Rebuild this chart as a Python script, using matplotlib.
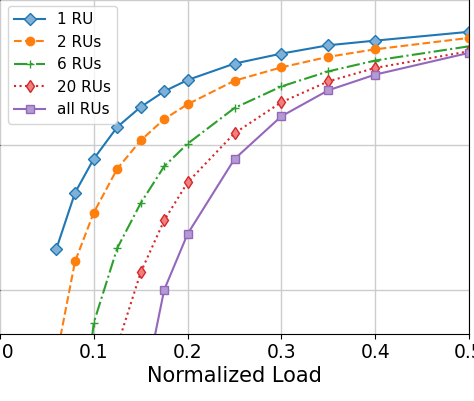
import matplotlib
matplotlib.use("Agg")
import matplotlib.pyplot as plt

load_1 = [0.06, 0.08, 0.1, 0.125, 0.15, 0.175, 0.2, 0.25, 0.3, 0.35, 0.4, 0.5]
ru1 = [0.0191, 0.0467, 0.080, 0.1324, 0.182, 0.233, 0.279, 0.362, 0.424, 0.484, 0.521, 0.599]

load_2 = [0.06, 0.08, 0.1, 0.125, 0.15, 0.175, 0.2, 0.25, 0.3, 0.35, 0.4, 0.5]
ru2 = [0.0034, 0.0157, 0.0341, 0.0683, 0.107, 0.150, 0.190, 0.276, 0.341, 0.403, 0.454, 0.544]

load_6 = [0.08, 0.1, 0.125, 0.15, 0.175, 0.2, 0.25, 0.3, 0.35, 0.4, 0.5]
ru6 = [0.0005, 0.00595, 0.0194, 0.0396, 0.0709, 0.1016, 0.179, 0.252, 0.320, 0.380, 0.476]

load_20 = [0.125, 0.15, 0.175, 0.2, 0.25, 0.3, 0.35, 0.4, 0.5]
ru20 = [0.0041, 0.0132, 0.0301, 0.055, 0.120, 0.196, 0.273, 0.338, 0.440]

load_all = [0.15, 0.175, 0.2, 0.25, 0.3, 0.35, 0.4, 0.5]
ru_all = [0.0016, 0.010, 0.0243, 0.0797, 0.157, 0.237, 0.304, 0.429]

labels = ["1 RU", "2 RUs", "6 RUs", "20 RUs", "all RUs"]
xticks = [0.0, 0.1, 0.2, 0.3, 0.4, 0.5]

W, H = 474, 401
fig = plt.figure(figsize=(W / 100, H / 100), dpi=100)
ax = fig.add_axes([0.0 / W, (H - 333.5) / H, 469.0 / W, 334.0 / H])

ax.plot(load_1, ru1, '-', marker='D', color='tab:blue', label=labels[0], markersize=6, markerfacecolor='#7fb0d8')
ax.plot(load_2, ru2, '--', marker='o', color='tab:orange', label=labels[1], markersize=6)
ax.plot(load_6, ru6, '-.', marker='+', color='tab:green', label=labels[2], markersize=6)
ax.plot(load_20, ru20, ':', marker='d', color='tab:red', label=labels[3], markersize=6, markerfacecolor='#f08080')
ax.plot(load_all, ru_all, '-', marker='s', color='tab:purple', label=labels[4], markersize=6, markerfacecolor='#b39ad0')

ax.set_yscale('log')
ax.set_ylim(10 ** (-333.5 / 145), 1.0)
ax.set_xlim(0.0, 0.5)
ax.set_xticks(xticks)
ax.set_xticklabels([f"{t:.1f}" for t in xticks])
ax.minorticks_off()
ax.grid(True, which='major', color='#cccccc', linewidth=1.0)
ax.spines['left'].set_visible(False)
ax.spines['top'].set_visible(False)
ax.tick_params(axis='x', labelsize=13.5)
ax.tick_params(axis='y', labelsize=13.5)
ax.set_xlabel("Normalized Load", fontsize=15, labelpad=3)
ax.legend(loc='upper left', fontsize=11, bbox_to_anchor=(0.008, 0.995), borderaxespad=0.3)

fig.savefig("out.png", dpi=100)
